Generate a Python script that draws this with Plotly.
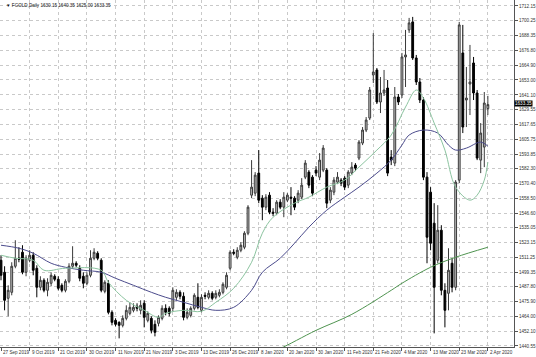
import plotly.graph_objects as go

# ---------------- data ----------------
tick_labels = ["27 Sep 2019", "9 Oct 2019", "21 Oct 2019", "30 Oct 2019", "11 Nov 2019",
               "21 Nov 2019", "3 Dec 2019", "13 Dec 2019", "26 Dec 2019", "8 Jan 2020",
               "20 Jan 2020", "30 Jan 2020", "11 Feb 2020", "21 Feb 2020", "4 Mar 2020",
               "13 Mar 2020", "23 Mar 2020", "2 Apr 2020"]
bars_per_tick = 8

opens = [1509, 1499.4, 1478.6, 1483.4, 1504.2, 1510.6, 1515.4, 1499.4, 1509, 1513,
         1502.6, 1487.4, 1493, 1485, 1490.6, 1496.2, 1493.8, 1489, 1485, 1492.2,
         1504.2, 1506.6, 1502.6, 1496.2, 1490.6, 1497, 1510.6, 1514.6, 1509, 1484.2,
         1490.6, 1467.4, 1461, 1459.4, 1457, 1462.6, 1466.6, 1469, 1472.2, 1469,
         1474.6, 1461, 1462.6, 1457.8, 1458.6, 1462.6, 1470.6, 1470.6, 1470.6, 1479.4,
         1483.4, 1480.2, 1463.4, 1465, 1470.6, 1479.4, 1469, 1481, 1479.4, 1482.6,
         1479.4, 1481, 1483.4, 1487.4, 1502.6, 1515.4, 1511.4, 1517, 1519.4, 1530.6,
         1561, 1562.6, 1578.6, 1558.6, 1551.4, 1561, 1547.4, 1546.6, 1555.4, 1551.4,
         1557, 1559.4, 1558.6, 1557, 1559.4, 1575.4, 1579.4, 1575.4, 1581, 1575.4,
         1581, 1581, 1557, 1563.4, 1571.4, 1573, 1574.6, 1569, 1578.6, 1585,
         1590.6, 1602.6, 1613, 1622.6, 1657, 1661, 1635.4, 1642.6, 1646.6, 1591.4,
         1586.6, 1639.4, 1641, 1671.4, 1693, 1699.4, 1670.6, 1651.4, 1637, 1575.4,
         1563.4, 1538.6, 1509, 1533, 1485, 1482.6, 1506.6, 1487.4, 1573, 1674.6,
         1637, 1649.8, 1666.6, 1642.6, 1589, 1599.4, 1630.15]
highs = [1513, 1504.2, 1489, 1507.4, 1525, 1519.4, 1521, 1513, 1517, 1515.4,
         1505, 1496.2, 1494.6, 1494.6, 1499.4, 1497.8, 1496.2, 1490.6, 1493.8, 1506.6,
         1520.2, 1508.2, 1505, 1499.4, 1499.4, 1517, 1518.6, 1516.2, 1510.6, 1493,
         1493, 1469, 1462.6, 1460.2, 1465, 1473, 1475.4, 1474.6, 1474.6, 1477,
         1477, 1468.2, 1464.2, 1461, 1465, 1473, 1473.8, 1472.2, 1487.4, 1485.8,
         1485, 1483.4, 1470.6, 1472.2, 1482.6, 1490.6, 1481.8, 1483.4, 1485, 1484.2,
         1485, 1485.8, 1491.4, 1499.4, 1517, 1517.8, 1519.4, 1523.4, 1532.2, 1553,
         1589, 1579.4, 1597, 1561, 1561.8, 1563.4, 1550.6, 1557, 1557.8, 1563.4,
         1562.6, 1567.4, 1560.2, 1565, 1574.6, 1589, 1581, 1577, 1584.2, 1594.6,
         1601, 1582.6, 1567.4, 1575.4, 1579.4, 1574.6, 1576.2, 1581, 1587.4, 1586.6,
         1605, 1615.4, 1623.4, 1647.4, 1690.5, 1662.6, 1655.4, 1661, 1653, 1597,
         1647.4, 1641.8, 1674.6, 1693, 1702.6, 1703.4, 1673, 1654.6, 1639.4, 1579.4,
         1567.4, 1554.6, 1553, 1537, 1490.6, 1518.6, 1510.6, 1573, 1699.4, 1697,
         1663.4, 1681, 1671.4, 1645, 1618.6, 1643.4, 1640.35]
lows = [1493, 1469, 1464.2, 1481, 1502.6, 1507.4, 1497.8, 1496.2, 1507.4, 1497,
        1479.4, 1485, 1483.4, 1480.2, 1488.2, 1492.2, 1485, 1483.4, 1483.4, 1490.6,
        1502.6, 1503.4, 1492.2, 1486.6, 1489, 1495.4, 1509, 1509, 1483.4, 1482.6,
        1465.8, 1457, 1456.2, 1446.6, 1455.4, 1461, 1465, 1467.4, 1468.2, 1465.8,
        1455.4, 1459.4, 1450.6, 1448.2, 1456.2, 1461, 1465, 1464.2, 1468.2, 1477,
        1477.8, 1461, 1461.8, 1463.4, 1469, 1469.8, 1467.4, 1477.8, 1477.8, 1477,
        1477.8, 1479.4, 1481.8, 1485.8, 1501, 1513, 1509.8, 1515.4, 1517.8, 1529,
        1558.6, 1560.2, 1554.6, 1541, 1549, 1545.8, 1544.2, 1545, 1549.8, 1543.4,
        1555.4, 1545, 1549, 1554.6, 1557.8, 1573.8, 1566.6, 1560.2, 1576.2, 1573,
        1579.4, 1550.6, 1554.6, 1561, 1569.8, 1568.2, 1565, 1566.6, 1577, 1580.2,
        1589, 1601, 1611.4, 1621, 1650.5, 1633.8, 1626.6, 1640.2, 1576.2, 1585,
        1584.2, 1633, 1638.6, 1647.4, 1690.6, 1669, 1649, 1634.6, 1573, 1506.6,
        1517, 1450.6, 1506.6, 1481, 1455.4, 1469, 1483.4, 1485, 1570.6, 1610.6,
        1615.4, 1625, 1637, 1589, 1578.6, 1583.4, 1625.0]
closes = [1497, 1477, 1485, 1504.2, 1510.6, 1509.8, 1499.4, 1510.6, 1513, 1501,
          1487.4, 1493, 1485, 1491.4, 1497, 1493.8, 1486.6, 1485, 1492.2, 1504.2,
          1506.6, 1505, 1494.6, 1490.6, 1497, 1510.6, 1515.4, 1510.6, 1485, 1491.4,
          1467.4, 1459.4, 1457.8, 1457, 1462.6, 1469, 1471.4, 1471.4, 1470.6, 1473,
          1463.4, 1466.6, 1453, 1451.4, 1463.4, 1470.6, 1467.4, 1466.6, 1485, 1483.4,
          1480.2, 1463.4, 1467.4, 1470.6, 1481, 1471.4, 1479.4, 1480.2, 1482.6, 1478.6,
          1482.6, 1483.4, 1489.8, 1497, 1515.4, 1514.6, 1517, 1521, 1530.6, 1551.4,
          1567.4, 1577, 1557, 1551.4, 1559.4, 1547.4, 1546.6, 1555.4, 1551.4, 1559.4,
          1561, 1558.6, 1551.4, 1562.6, 1569, 1586.6, 1569, 1562.6, 1578.6, 1589,
          1598.6, 1554.6, 1565, 1573, 1575.4, 1570.6, 1567.4, 1579.4, 1583.4, 1582.6,
          1603.4, 1613, 1621, 1645, 1659.4, 1635.4, 1642.6, 1645, 1578.6, 1589,
          1639.4, 1635.4, 1671.4, 1673, 1698.6, 1670.6, 1651.4, 1637, 1575.4, 1527.4,
          1522.6, 1487.4, 1533, 1485, 1469, 1501, 1487.4, 1571.4, 1697, 1615.4,
          1638.6, 1651.4, 1642.6, 1590.6, 1610.6, 1634.6, 1633.35]

# moving averages as drawn (bar index, price)
ma_fast_idx = [0, 4, 9, 12, 18, 28, 30, 35, 40, 44, 46, 51, 56, 60, 65, 70, 73, 76, 82, 86,
               91, 96, 100, 105, 109, 113, 116, 118, 121, 124, 127, 131, 133, 135, 136]
ma_fast_val = [1513, 1510.6, 1509, 1501, 1502.6, 1501, 1491.4, 1477, 1469, 1463.4, 1466.6,
               1469, 1468.2, 1475.4, 1486.6, 1507.4, 1530.6, 1543.4, 1554.6, 1559.4,
               1567.4, 1573, 1583.4, 1597, 1609, 1631.4, 1645, 1638.6, 1618.6, 1597,
               1567.4, 1557, 1561, 1573, 1587.4]
ma_mid_idx = [0, 5, 9, 14, 18, 23, 28, 32, 37, 42, 46, 51, 56, 60, 65, 70, 73, 78, 82, 86,
              91, 96, 100, 105, 109, 112, 114, 118, 122, 125, 127, 130, 134, 136]
ma_mid_val = [1521, 1518.6, 1514.6, 1506.6, 1503.4, 1501, 1499.4, 1494.6, 1489, 1483.4,
              1479.4, 1475.4, 1471.4, 1469, 1471.4, 1485, 1499.4, 1510.6, 1522.6, 1535.4,
              1549, 1559.4, 1567.4, 1578.6, 1589, 1601, 1609, 1613, 1610.6, 1601, 1597,
              1598.6, 1603.4, 1600.2]
ma_slow_idx = [76, 78, 88, 98, 109, 112, 120, 127, 136]
ma_slow_val = [1437, 1438.6, 1453, 1465.8, 1485, 1490.6, 1503.4, 1511.4, 1519.4]

y_ticks = [1440.55, 1452.10, 1464.00, 1475.90, 1487.80, 1499.35, 1511.25, 1523.15,
           1535.05, 1546.60, 1558.50, 1570.40, 1582.30, 1593.85, 1605.75, 1617.65,
           1629.55, 1641.10, 1653.00, 1664.90, 1676.80, 1688.35, 1700.25, 1712.15]

title_text = "\u25bc FGOLD,Daily 1630.15 1640.35 1625.00 1633.35"
last_price = 1633.35

# ---------------- figure ----------------
idx = list(range(len(opens)))
font_family = "Liberation Sans, Arial, sans-serif"
text_col = "#333333"
grid_col = "#c9c9c9"
fs = 4.6

fig = go.Figure()
fig.add_trace(go.Candlestick(
    x=idx, open=opens, high=highs, low=lows, close=closes,
    increasing=dict(fillcolor="#c4c4c4", line=dict(color="#3a3a3a", width=1)),
    decreasing=dict(fillcolor="#000000", line=dict(color="#000000", width=1)),
    whiskerwidth=0, showlegend=False, hoverinfo="skip"))

fig.add_trace(go.Scatter(x=ma_slow_idx, y=ma_slow_val, mode="lines",
                         line=dict(color="#4f9450", width=1, shape="spline"),
                         showlegend=False, hoverinfo="skip"))
fig.add_trace(go.Scatter(x=ma_mid_idx, y=ma_mid_val, mode="lines",
                         line=dict(color="#4b4b8c", width=1, shape="spline"),
                         showlegend=False, hoverinfo="skip"))
fig.add_trace(go.Scatter(x=ma_fast_idx, y=ma_fast_val, mode="lines",
                         line=dict(color="#8cc4a0", width=1, shape="spline"),
                         showlegend=False, hoverinfo="skip"))

tickvals = [i * bars_per_tick for i in range(len(tick_labels))]

fig.update_layout(
    width=536, height=357,
    margin=dict(l=0, r=22, t=0, b=10),
    paper_bgcolor="white", plot_bgcolor="white",
    font=dict(family=font_family, size=fs, color=text_col),
    boxgap=0.28,
    xaxis=dict(
        range=[-0.28, 143.3], rangeslider=dict(visible=False),
        tickmode="array", tickvals=tickvals, showticklabels=False,
        showgrid=True, gridcolor=grid_col, griddash="dot", gridwidth=1,
        showline=True, linecolor="#555555", linewidth=1,
        ticks="outside", ticklen=3, tickcolor="#555555",
        zeroline=False, fixedrange=True),
    yaxis=dict(
        range=[1439.7, 1716.9], side="right",
        tickmode="array", tickvals=y_ticks, ticktext=[f"{v:.2f}" for v in y_ticks],
        showgrid=True, gridcolor=grid_col, griddash="dot", gridwidth=1,
        showline=True, linecolor="#555555", linewidth=1,
        ticks="outside", ticklen=3, tickcolor="#555555",
        tickfont=dict(size=fs, color=text_col), zeroline=False, fixedrange=True),
)

# x tick labels written to the right of each tick, as in the terminal chart
for tv, lab in zip(tickvals, tick_labels):
    fig.add_annotation(text=lab, xref="x", yref="paper", x=tv, y=0,
                       xanchor="left", yanchor="top", yshift=-1, xshift=0,
                       showarrow=False, font=dict(size=fs, color=text_col, family=font_family))

fig.add_annotation(text=title_text, xref="paper", yref="paper", x=0.008, y=0.997,
                   xanchor="left", yanchor="top", showarrow=False,
                   font=dict(size=fs, color="#111111", family=font_family))
fig.add_annotation(text=f"{last_price:.2f}", xref="paper", yref="y", x=1.0, y=last_price,
                   xanchor="left", yanchor="middle", showarrow=False, yshift=1,
                   bgcolor="#000000", borderpad=0,
                   font=dict(size=fs, color="#ffffff", family=font_family))

fig.write_html("out.html")
